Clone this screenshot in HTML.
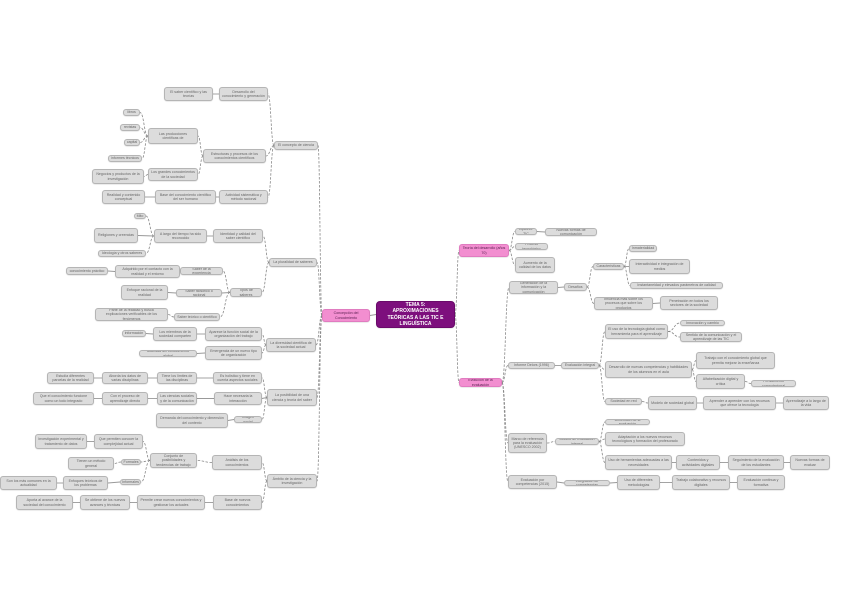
<!DOCTYPE html>
<html><head><meta charset="utf-8">
<style>
html,body{margin:0;padding:0;background:#fff;width:848px;height:599px;overflow:hidden}
#c{position:relative;width:848px;height:599px}
.n{position:absolute;box-sizing:border-box;background:#dcdcdc;border:1px solid #b5b5b5;border-radius:3px;font-family:"Liberation Sans",sans-serif;font-size:3.6px;line-height:4.2px;color:#666;display:flex;align-items:center;justify-content:center;text-align:center;overflow:hidden;padding:0 2px;box-shadow:0 0.5px 1px rgba(0,0,0,0.15)}
.p{background:#f28ed0;border-color:#e07cc0;color:#5a2050}
.m{background:#7d0f7d;border-color:#6a0a6a;color:#fff;font-size:5px;line-height:6.5px;font-weight:bold;border-radius:4px;padding:0 5px}
svg{position:absolute;left:0;top:0}
</style></head><body><div id="c"><svg id="s" width="848" height="599"></svg></div>
<script>
var N=[
["M",376,301,455,328,"TEMA 5: APROXIMACIONES TEÓRICAS A LAS TIC E LINGUÍSTICA",null,"m"],
["P1",322,309,370,322,"Concepción del Conocimiento","M","p"],
["P2",459,244,509,257,"Teoría del desarrollo (años 70)","M","p"],
["P3",459,378,502,387,"Evolución de la evaluación","M","p"],
["A",274,141,318,150,"El concepto de ciencia","P1"],
["A1",219,87,268,101,"Desarrollo del conocimiento y generación","A"],
["A1a",164,87,213,101,"El saber científico y las teorías","A1"],
["A2",203,149,266,163,"Estructuras y procesos de los conocimientos científicos","A"],
["A2a",148,128,198,144,"Las producciones científicas de","A2"],
["A2a1",123,109,140,116,"libros","A2a"],
["A2a2",120,124,140,131,"revistas","A2a"],
["A2a3",124,139,140,146,"capital","A2a"],
["A2a4",108,155,142,162,"informes técnicos","A2a"],
["A2b",148,168,198,181,"Los grandes conocimientos de la sociedad","A2"],
["A2b1",92,169,144,184,"Negocios y productos de la investigación","A2b"],
["A3",219,190,268,204,"Actividad sistemática y método racional","A"],
["A3a",155,190,216,204,"Base del conocimiento científico del ser humano","A3"],
["A3a1",102,190,145,204,"Realidad y contenido conceptual","A3a"],
["B",269,258,317,267,"La pluralidad de saberes","P1"],
["B1",213,229,263,243,"Identidad y calidad del saber científico","B"],
["B1a",154,229,207,243,"A largo del tiempo ha sido reconocido","B1"],
["B1a1",134,213,146,219,"Mito","B1a"],
["B1a2",94,228,138,243,"Religiones y creencias","B1a"],
["B1a3",98,250,146,257,"Ideología y otros saberes","B1a"],
["B2",230,288,262,297,"Tipos de saberes","B"],
["B2a",180,267,223,275,"Saber de la experiencia","B2"],
["B2a1",115,265,180,278,"Adquirido por el contacto con la realidad y el entorno","B2a"],
["B2a1a",66,267,108,275,"conocimiento práctico","B2a1"],
["B2b",176,289,222,297,"Saber filosófico o racional","B2"],
["B2b1",121,285,168,300,"Enfoque racional de la realidad","B2b"],
["B2c",174,313,220,321,"Saber teórico o científico","B2"],
["B2c1",95,308,168,321,"Parte de la realidad y busca explicaciones verificables de los fenómenos","B2c"],
["C",266,338,316,352,"La diversidad científica de la sociedad actual","P1"],
["C1",205,327,262,341,"Aparece la función social de la organización del trabajo","C"],
["C1a",153,327,197,341,"Los miembros de la sociedad comparten","C1"],
["C1a1",122,330,146,337,"información","C1a"],
["C2",205,346,262,360,"Emergencia de un nuevo tipo de organización","C"],
["C2a",139,350,197,357,"sociedad del conocimiento global","C2"],
["D",267,389,317,406,"La posibilidad de una ciencia y teoría del saber","P1"],
["D1",213,372,262,384,"Es holístico y tiene en cuenta aspectos sociales","D"],
["D1a",157,372,197,384,"Tiene los límites de las disciplinas","D1"],
["D1b",102,372,148,384,"Aborda los datos de varias disciplinas","D1a"],
["D1c",47,372,94,384,"Estudia diferentes parcelas de la realidad","D1b"],
["D2",214,392,262,405,"Hace necesaria la interacción","D"],
["D2a",157,392,197,405,"Las ciencias sociales y de la comunicación","D2"],
["D2b",102,392,148,405,"Con el proceso de aprendizaje directo","D2a"],
["D2c",33,392,94,405,"Que el conocimiento funcione como un todo integrado","D2b"],
["D3",234,416,262,423,"Imagen social","D"],
["D3a",156,413,228,428,"Demanda del conocimiento y dimensión del contexto","D3"],
["E",267,474,317,488,"Ámbito de la ciencia y la investigación","P1"],
["E1",212,455,262,470,"Análisis de los conocimientos","E"],
["E1a",150,453,197,468,"Conjunto de posibilidades y tendencias de trabajo","E1"],
["E1a1",94,434,143,449,"Que permiten conocer la complejidad actual","E1a"],
["E1a1a",35,434,87,449,"Investigación experimental y tratamiento de datos","E1a1"],
["E1a2",121,459,141,465,"Formales","E1a"],
["E1a2a",68,457,114,470,"Tienen un método general","E1a2"],
["E1a3",120,479,141,485,"Informales","E1a"],
["E1a3a",63,476,108,490,"Enfoques teóricos de los problemas","E1a3"],
["E1a3b",0,476,57,490,"Son los más comunes en la actualidad","E1a3a"],
["E2",213,495,262,510,"Base de nuevos conocimientos","E"],
["E2a",137,495,205,510,"Permite crear nuevos conocimientos y gestionar los actuales","E2"],
["E2b",80,495,130,510,"Se obtiene de los nuevos avances y técnicas","E2a"],
["E2c",16,495,73,510,"Aporta al avance de la sociedad del conocimiento","E2b"],
["F1",515,228,537,235,"Aparece TIC","P2"],
["F1a",545,228,597,236,"Nuevas formas de comunicación","F1"],
["F2",515,243,548,250,"Proceso tecnológico","P2"],
["F3",515,257,555,273,"Aumento de la calidad de los datos","P2"],
["G",509,281,558,294,"Generación de la información y la comunicación","P3"],
["G1",564,283,587,291,"Desafíos","G"],
["G1a",593,263,624,270,"Características","G1"],
["G1a1",629,245,657,252,"Inmaterialidad","G1a"],
["G1a2",629,259,690,274,"Interactividad e integración de medios","G1a"],
["G1a3",630,282,723,289,"Instantaneidad y elevados parámetros de calidad","G1a"],
["G1b",594,297,653,310,"Influencia más sobre los procesos que sobre los productos","G1"],
["G1b1",660,296,718,310,"Penetración en todos los sectores de la sociedad","G1b"],
["H",508,362,555,369,"Informe Delors (1996)","P3"],
["H1",561,362,599,369,"Evaluación integral","H"],
["H1a",605,324,668,339,"El uso de la tecnología global como herramienta para el aprendizaje","H1"],
["H1a1",680,320,725,326,"Innovación y cambio","H1a"],
["H1a2",680,332,742,342,"Sentido de la comunicación y el aprendizaje de las TIC","H1a"],
["H1b",605,361,692,378,"Desarrollo de nuevas competencias y habilidades de los alumnos en el aula","H1"],
["H1b1",696,352,775,369,"Trabajo con el conocimiento global que permita mejorar la enseñanza","H1b"],
["H1b2",696,374,745,389,"Alfabetización digital y crítica","H1b"],
["H1b2a",751,380,796,387,"Pensamiento computacional","H1b2"],
["H1c",605,398,642,405,"Sociedad en red","H1"],
["H1c1",648,396,697,410,"Modelo de sociedad global","H1c"],
["H1c2",703,396,776,410,"Aprender a aprender con los recursos que ofrece la tecnología","H1c1"],
["H1c3",783,396,829,410,"Aprendizaje a lo largo de la vida","H1c2"],
["I",508,433,547,453,"Marco de referencia para la evaluación (UNESCO 2002)","P3"],
["I1",555,438,599,445,"Modelo de evaluación integral","I"],
["I1a",605,419,650,425,"Dimensión de la evaluación","I1"],
["I1b",605,432,685,446,"Adaptación a los nuevos recursos tecnológicos y formación del profesorado","I1"],
["I1c",605,455,672,470,"Uso de herramientas adecuadas a las necesidades","I1"],
["I1c1",676,455,720,470,"Contenidos y actividades digitales","I1c"],
["I1c2",728,455,784,470,"Seguimiento de la evaluación de los estudiantes","I1c1"],
["I1c3",790,455,830,470,"Nuevas formas de evaluar","I1c2"],
["J",508,475,557,489,"Evaluación por competencias (2015)","P3"],
["J1",564,480,610,486,"Integración de competencias","J"],
["J2",617,475,660,490,"Uso de diferentes metodologías","J1"],
["J3",672,475,730,490,"Trabajo colaborativo y recursos digitales","J2"],
["J4",737,475,785,490,"Evaluación continua y formativa","J3"]
];
var c=document.getElementById('c'),s=document.getElementById('s'),M={},p='';
N.forEach(function(n){M[n[0]]=n;var d=document.createElement('div');d.className='n'+(n[7]?' '+n[7]:'');d.style.left=n[1]+'px';d.style.top=n[2]+'px';d.style.width=(n[3]-n[1])+'px';d.style.height=(n[4]-n[2])+'px';d.textContent=n[5];c.appendChild(d);});
N.forEach(function(n){if(!n[6])return;var q=M[n[6]],y1=(q[2]+q[4])/2,y2=(n[2]+n[4])/2,x1,x2;
if(n[1]>=q[3]-1){x1=q[3];x2=n[1];}else{x1=q[1];x2=n[3];}
if(Math.abs(y1-y2)<1.5){p+='<line x1="'+x1+'" y1="'+y1+'" x2="'+x2+'" y2="'+y2+'" stroke="#999" stroke-width="0.9"/>';}
else{var mx=(x1+x2)/2;p+='<path d="M'+x1+' '+y1+' C'+mx+' '+y1+' '+mx+' '+y2+' '+x2+' '+y2+'" fill="none" stroke="#888" stroke-width="0.8" stroke-dasharray="2.5 1.5"/>';}
});
s.innerHTML=p;
</script></body></html>
